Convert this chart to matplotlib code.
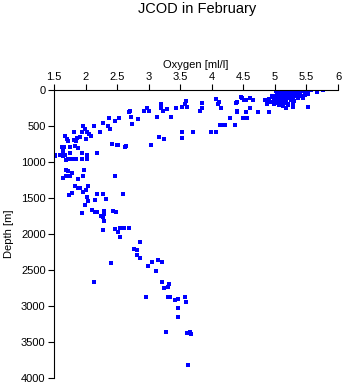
import matplotlib
matplotlib.use("Agg")
import matplotlib.pyplot as plt

plt.rcParams['font.family'] = ['Liberation Sans', 'DejaVu Sans']

# (oxygen [ml/l], depth [m])
surface_oxy = [5.02, 5.06, 5.10, 5.13, 5.18, 5.21, 5.26, 5.29, 5.34, 5.37, 5.42, 5.45, 5.50, 5.53, 5.58,
               5.04, 5.09, 5.15, 5.20, 5.25, 5.31, 5.36, 5.40, 5.47, 5.52,
               5.02, 5.07, 5.12, 5.17, 5.21, 5.26, 5.31, 5.36, 5.42, 5.48,
               5.01, 5.06, 5.10, 5.17, 5.23, 5.29, 5.36, 5.44,
               5.01, 5.07, 5.13, 5.18, 5.25, 5.31,
               5.02, 5.09, 5.15, 5.21, 5.28,
               5.06, 5.13, 5.20, 5.28,
               5.18, 5.28, 5.52, 5.77, 5.66, 5.51, 4.87, 4.90, 4.95, 4.88, 4.98, 4.99, 5.06, 4.96, 4.93, 4.85]
surface_depth = [10, 0, 15, 5, 10, 20, 0, 10, 5, 15, 10, 0, 20, 10, 5,
                 40, 35, 45, 40, 50, 40, 35, 45, 40, 50,
                 80, 75, 85, 80, 90, 75, 80, 85, 80, 75,
                 110, 120, 105, 115, 110, 120, 110, 105,
                 145, 150, 140, 155, 145, 150,
                 180, 185, 175, 190, 180,
                 210, 220, 215, 205,
                 250, 235, 240, 0, 30, 30, 150, 125, 100, 195, 195, 140, 195, 85, 160, 140]

upper_oxy = [4.90, 4.74, 4.60, 4.55, 4.40, 4.47, 4.40, 4.61, 4.55, 4.65, 4.51, 4.39, 4.48, 4.29, 4.50,
             4.56, 4.37, 4.21, 4.13, 4.18, 4.07, 3.99, 4.07, 4.12, 4.10, 4.15, 4.40,
             3.85, 3.85, 3.82, 3.71, 3.53, 3.53, 3.25, 3.17, 3.04, 3.59, 3.57, 3.53, 3.61, 3.44,
             3.36, 3.29, 3.23, 3.20, 3.20, 3.13, 3.01, 2.98, 2.92,
             2.71, 2.72, 2.83, 2.74, 2.69, 2.53, 2.47, 2.37, 2.28, 2.36, 2.39, 2.14, 1.96, 1.99,
             2.23, 2.06, 2.02, 2.09, 1.82, 1.94, 1.67, 1.71, 1.86, 1.91, 2.01, 1.82, 1.85, 1.72,
             1.62, 1.66, 1.75, 1.83, 1.88, 1.52, 1.60, 1.64, 1.67, 1.64, 1.75, 1.94, 2.02, 2.18,
             2.42, 2.50, 2.52, 2.63, 2.64,
             1.52, 1.64, 1.69, 1.72, 1.78, 1.85, 1.94, 2.02]
upper_depth = [300, 300, 250, 300, 300, 100, 160, 110, 140, 140, 140, 180, 110, 390, 390,
               390, 490, 490, 490, 490, 590, 580, 125, 165, 195, 250, 290,
               180, 250, 290, 590, 590, 670, 680, 650, 765, 150, 190, 235, 235, 250,
               375, 265, 290, 195, 250, 375, 290, 250, 290,
               290, 370, 400, 470, 300, 390, 430, 390, 460, 500, 540, 500, 500, 540,
               580, 610, 590, 640, 580, 590, 640, 680, 670, 650, 680, 690, 710, 710,
               790, 790, 790, 780, 800, 900, 900, 870, 900, 830, 870, 870, 900, 870,
               750, 760, 770, 790, 780,
               920, 920, 970, 960, 960, 960, 960, 960]

deep_oxy = [1.69, 1.72, 1.78, 1.69, 1.64, 1.75, 1.88, 1.96, 1.98, 2.47, 1.84, 1.88, 1.91, 1.96,
            2.01, 2.04, 1.79, 1.73, 2.02, 2.04, 2.15, 2.18, 2.28, 2.33, 2.60, 1.99,
            1.94, 2.11, 2.15, 2.18, 2.25, 2.27, 2.29, 2.29, 2.43, 2.48, 2.29, 2.28, 2.47, 2.54,
            2.61, 2.69, 2.51, 2.54,
            2.86, 2.77, 2.81, 2.81, 2.86, 2.40, 2.99, 3.05, 3.14, 3.21, 3.12, 2.13, 3.21, 3.33,
            3.24, 3.31, 2.95, 3.31, 3.34, 3.42, 3.47, 3.58, 3.59, 3.47,
            3.47, 3.28, 3.61, 3.65, 3.67, 3.63]
deep_depth = [1110, 1130, 1150, 1190, 1220, 1200, 1240, 1200, 1110, 1190, 1330, 1360, 1360, 1420,
              1390, 1330, 1430, 1460, 1490, 1540, 1530, 1440, 1450, 1510, 1440, 1600,
              1710, 1660, 1690, 1690, 1750, 1770, 1720, 1680, 1680, 1690, 1820, 1940, 1930, 1920,
              1920, 1910, 1970, 2040,
              2110, 2210, 2220, 2290, 2330, 2400, 2440, 2390, 2360, 2390, 2510, 2670, 2670, 2690,
              2750, 2740, 2880, 2880, 2870, 2920, 2900, 2880, 2950, 3030,
              3150, 3360, 3370, 3360, 3390, 3820]

oxygen = surface_oxy + upper_oxy + deep_oxy
depth = surface_depth + upper_depth + deep_depth

x_ticks = [1.5, 2, 2.5, 3, 3.5, 4, 4.5, 5, 5.5, 6]
x_labels = ['1.5', '2', '2.5', '3', '3.5', '4', '4.5', '5', '5.5', '6']
y_ticks = [0, 500, 1000, 1500, 2000, 2500, 3000, 3500, 4000]

fig = plt.figure(figsize=(3.45, 3.84), dpi=100)
ax = fig.add_axes([54 / 345, 6 / 384, 284 / 345, 288 / 384])

ax.plot(oxygen, depth, linestyle='none', marker='s', markersize=2.3,
        color='#0000ff', markeredgewidth=0)

ax.set_xlim(1.5, 6)
ax.set_ylim(4000, 0)
ax.xaxis.tick_top()
ax.xaxis.set_label_position('top')
ax.set_xticks(x_ticks)
ax.set_xticklabels(x_labels)
ax.set_yticks(y_ticks)
ax.tick_params(axis='both', labelsize=8, length=4, width=0.8, pad=2, direction='out')

for side in ['right', 'bottom']:
    ax.spines[side].set_visible(False)
for side in ['left', 'top']:
    ax.spines[side].set_linewidth(0.8)

ax.set_xlabel('Oxygen [ml/l]', fontsize=8, labelpad=3)
ax.set_ylabel('Depth [m]', fontsize=8, labelpad=5)
fig.text(0.57, 1 - 9 / 384, 'JCOD in February', ha='center', va='center', fontsize=10.5)

fig.savefig('out.png', dpi=100)
